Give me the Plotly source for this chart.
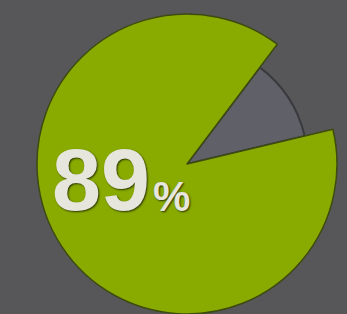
import plotly.graph_objects as go

labels = ["Remaining", "Complete"]
values = [11, 89]
percent_label = "89"

W, H = 347, 314
cx, cy = 187, 164
r_outer, r_inner = 150, 121

def dom(r):
    y0 = max(0.0, (H - cy - r) / H)
    y1 = min(1.0, (H - cy + r) / H)
    return dict(x=[(cx - r) / W, (cx + r) / W], y=[y0, y1])

fig = go.Figure()
# inner gray slice (remaining)
fig.add_trace(go.Pie(
    labels=labels, values=values, sort=False, direction="clockwise", rotation=37,
    marker=dict(colors=["#606069", "rgba(0,0,0,0)"],
                line=dict(color=["#3a3a3e", "rgba(0,0,0,0)"], width=2)),
    textinfo="none", hoverinfo="label+percent", domain=dom(r_inner), showlegend=False))
# outer green slice (complete)
fig.add_trace(go.Pie(
    labels=labels, values=values, sort=False, direction="clockwise", rotation=37,
    marker=dict(colors=["rgba(0,0,0,0)", "#89ab00"],
                line=dict(color=["rgba(0,0,0,0)", "#3d4a10"], width=1.5)),
    textinfo="none", hoverinfo="label+percent", domain=dom(r_outer), showlegend=False))

shadow = "1px 1px 2px #2a3300"
fig.add_annotation(x=50 / W, y=1 - 231 / H, xref="paper", yref="paper",
                   xanchor="left", yanchor="bottom", showarrow=False,
                   text="<b>" + percent_label + "</b>",
                   font=dict(family="Liberation Sans, Arial", size=88, color="#e6e6dc",
                             shadow=shadow))
fig.add_annotation(x=151 / W, y=1 - 222 / H, xref="paper", yref="paper",
                   xanchor="left", yanchor="bottom", showarrow=False,
                   text="<b>%</b>",
                   font=dict(family="Liberation Sans, Arial", size=42, color="#e6e6dc",
                             shadow=shadow))

fig.update_layout(width=W, height=H, margin=dict(l=0, r=0, t=0, b=0),
                  paper_bgcolor="#57575a", plot_bgcolor="#57575a")
fig.write_html("out.html", config={"displayModeBar": False},
               post_script="document.body.style.margin='0';")
